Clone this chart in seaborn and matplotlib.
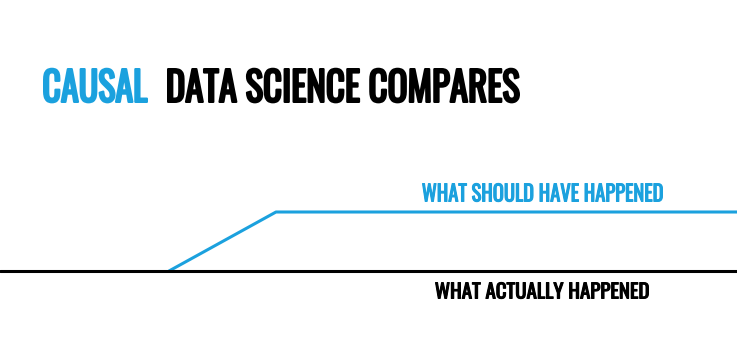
import matplotlib
matplotlib.use("Agg")
import numpy as np
import pandas as pd
import seaborn as sns
import matplotlib.pyplot as plt
from matplotlib.patheffects import AbstractPathEffect
from matplotlib.transforms import Affine2D
from matplotlib.textpath import TextPath
from matplotlib.font_manager import FontProperties

# ---------------- data ----------------
time_actual = [0.0, 7.37]
outcome_actual = [0.0, 0.0]
time_counterfactual = [1.69, 2.76, 7.37]
outcome_counterfactual = [0.0, 1.0, 1.0]
series_names = ["What should have happened", "What actually happened"]

title_highlight = "CAUSAL"
title_rest = "DATA SCIENCE COMPARES"
label_counterfactual = "WHAT SHOULD HAVE HAPPENED"
label_actual = "WHAT ACTUALLY HAPPENED"

# ---------------- style ----------------
BLUE = "#1BA1DE"
BLACK = "#000000"
W, H, DPI = 737, 356, 100
FAMILY = ["Oswald", "Antonio", "Roboto Condensed", "DejaVu Sans"]

sns.set_theme(style="white")
plt.rcParams["font.family"] = FAMILY

df = pd.concat([
    pd.DataFrame({"time": time_counterfactual, "outcome": outcome_counterfactual,
                  "series": series_names[0]}),
    pd.DataFrame({"time": time_actual, "outcome": outcome_actual,
                  "series": series_names[1]}),
], ignore_index=True)

fig = plt.figure(figsize=(W / DPI, H / DPI), dpi=DPI)
fig.patch.set_facecolor("white")
ax = fig.add_axes([0, 0, 1, 1])
sns.lineplot(data=df, x="time", y="outcome", hue="series", hue_order=series_names,
             palette=[BLUE, BLACK], linewidth=2.2, estimator=None, sort=False,
             legend=False, ax=ax)
ax.set_xlim(0, W / 100)
px_per_unit = 59.0
base_from_bottom = H - 271.0
ax.set_ylim(-base_from_bottom / px_per_unit, (H - base_from_bottom) / px_per_unit)
ax.axis("off")


class Condense(AbstractPathEffect):
    """Slightly rescale glyphs horizontally and embolden; the artist stays real text."""

    def __init__(self, sx, stroke_pt=0.0):
        super().__init__()
        self.sx = sx
        self.stroke_pt = stroke_pt

    def draw_path(self, renderer, gc, tpath, affine, rgbFace=None):
        aff = Affine2D().scale(self.sx, 1.0) + affine
        renderer.draw_path(gc, tpath, aff, rgbFace)
        if self.stroke_pt > 0 and rgbFace is not None:
            gc0 = renderer.new_gc()
            gc0.copy_properties(gc)
            gc0.set_linewidth(self.stroke_pt)
            gc0.set_foreground(rgbFace)
            gc0.set_joinstyle("round")
            renderer.draw_path(gc0, tpath, aff, rgbFace)
            gc0.restore()


def place(s, left_px, right_px, cap_top_px, baseline_px, color, stroke_px=0.0):
    fp = FontProperties(family=FAMILY)
    cap_per = TextPath((0, 0), "H", size=100, prop=fp).get_extents().y1 / 100.0
    fs_px = (baseline_px - cap_top_px - stroke_px) / cap_per
    ext = TextPath((0, 0), s, size=fs_px, prop=fp).get_extents()
    sx = (right_px - left_px - stroke_px) / ext.width
    x_anchor = left_px + stroke_px / 2 - ext.x0 * sx
    y_base = baseline_px - stroke_px / 2
    return fig.text(x_anchor / W, 1 - y_base / H, s, ha="left", va="baseline",
                    fontsize=fs_px * 72 / DPI, family=FAMILY, color=color,
                    path_effects=[Condense(sx, stroke_px * 72 / DPI)])


place(title_highlight, 43, 148, 68, 103, BLUE, stroke_px=2.2)
place(title_rest, 167, 520, 68, 103, BLACK, stroke_px=2.2)
place(label_counterfactual, 422, 663, 183, 202, BLUE, stroke_px=1.1)
place(label_actual, 435, 649, 282, 299, BLACK, stroke_px=1.1)

fig.savefig("out.png", dpi=DPI, facecolor="white")
